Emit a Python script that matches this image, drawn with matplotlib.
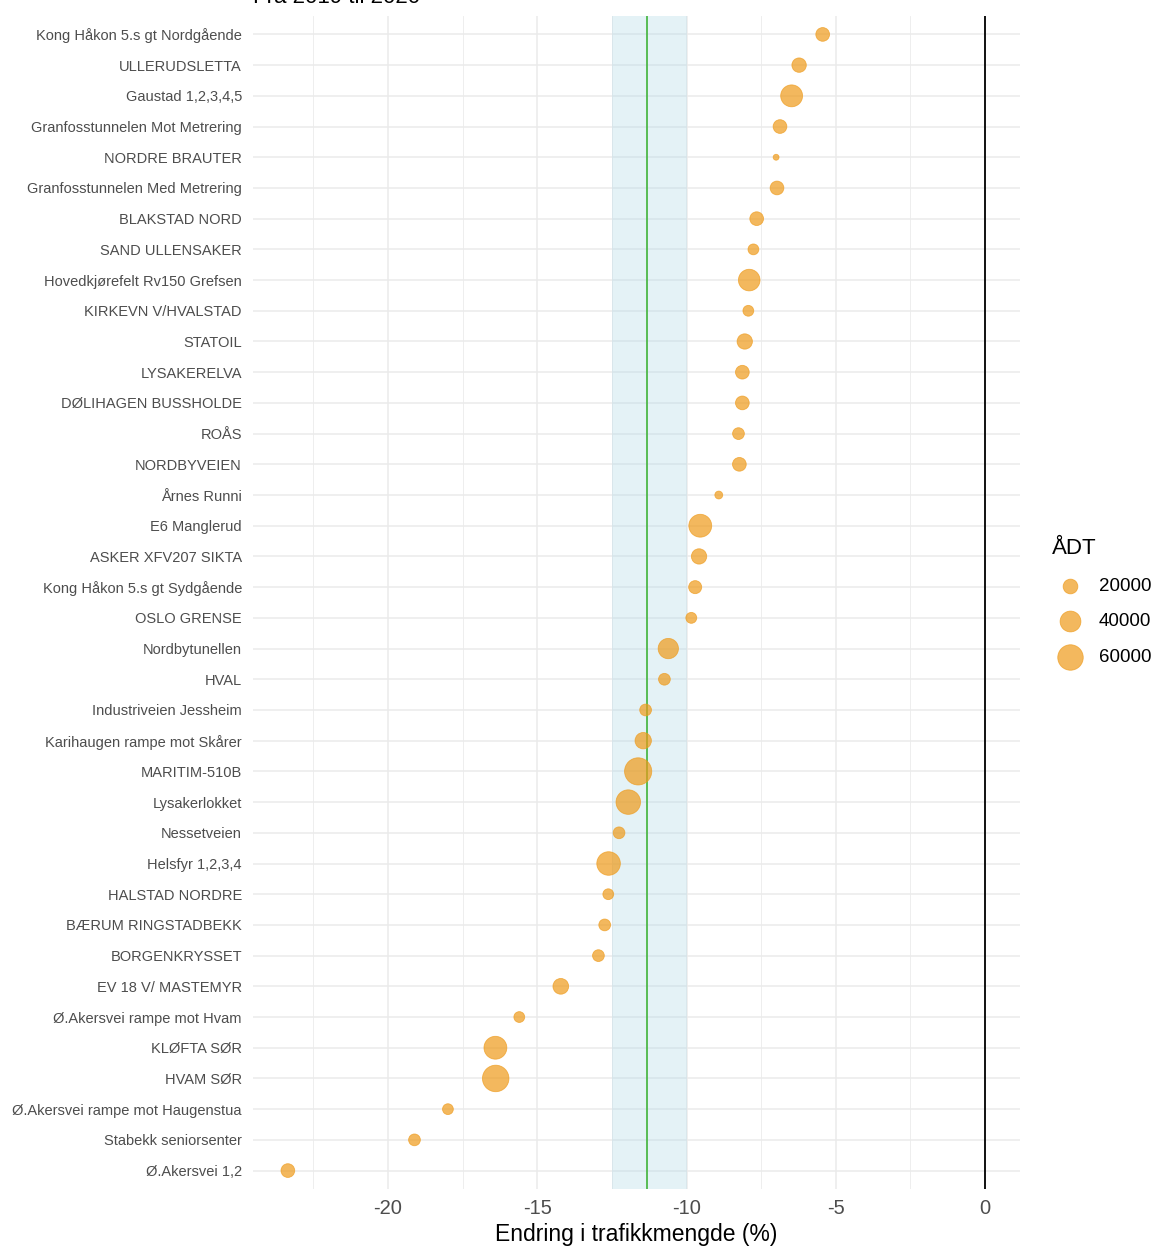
import matplotlib
matplotlib.use("Agg")
import matplotlib.pyplot as plt
import numpy as np

plt.rcParams["font.family"] = ["Liberation Sans", "DejaVu Sans"]

# --- data ---
STATIONS = [
    "Kong Håkon 5.s gt Nordgående", "ULLERUDSLETTA", "Gaustad 1,2,3,4,5",
    "Granfosstunnelen Mot Metrering", "NORDRE BRAUTER",
    "Granfosstunnelen Med Metrering", "BLAKSTAD NORD", "SAND ULLENSAKER",
    "Hovedkjørefelt Rv150 Grefsen", "KIRKEVN V/HVALSTAD", "STATOIL",
    "LYSAKERELVA", "DØLIHAGEN BUSSHOLDE", "ROÅS", "NORDBYVEIEN",
    "Årnes Runni", "E6 Manglerud", "ASKER XFV207 SIKTA",
    "Kong Håkon 5.s gt Sydgående", "OSLO GRENSE", "Nordbytunellen", "HVAL",
    "Industriveien Jessheim", "Karihaugen rampe mot Skårer", "MARITIM-510B",
    "Lysakerlokket", "Nessetveien", "Helsfyr 1,2,3,4", "HALSTAD NORDRE",
    "BÆRUM RINGSTADBEKK", "BORGENKRYSSET", "EV 18 V/ MASTEMYR",
    "Ø.Akersvei rampe mot Hvam", "KLØFTA SØR", "HVAM SØR",
    "Ø.Akersvei rampe mot Haugenstua", "Stabekk seniorsenter", "Ø.Akersvei 1,2",
]
CHANGE_PCT = [
    -5.44, -6.23, -6.48, -6.87, -7.00, -6.97, -7.65, -7.76, -7.90, -7.93,
    -8.05, -8.13, -8.13, -8.26, -8.23, -8.92, -9.54, -9.58, -9.71, -9.84,
    -10.61, -10.74, -11.37, -11.45, -11.62, -11.95, -12.26, -12.61, -12.62,
    -12.74, -12.95, -14.21, -15.60, -16.40, -16.39, -17.99, -19.11, -23.35,
]
ADT = [
    17400, 19200, 44300, 17400, 3200, 17400, 17400, 10800, 43100, 10800,
    21700, 17400, 17400, 12800, 17400, 5700, 48300, 21700, 15700, 11000,
    38100, 12800, 12800, 24800, 68300, 55600, 12800, 51300, 10800,
    12800, 12800, 22800, 10800, 48300, 64900, 10800, 12800, 17400,
]
LEGEND_ADT = [20000, 40000, 60000]

BAND = (-12.5, -10.0)
MEAN_LINE = -11.34

POINT_COLOR = "#EE9A1A"
TEXT_GREY = "#4D4D4D"
GRID = "#EBEBEB"


def area(v):
    # area proportional to ÅDT (pt^2)
    return 0.0056 * np.asarray(v, dtype=float)


W, H = 1159, 1251
fig = plt.figure(figsize=(W / 100, H / 100), dpi=100)
ax = fig.add_axes([253 / W, 1 - 1189 / H, (1020 - 253) / W, (1189 - 16) / H])

y = np.arange(len(STATIONS))
x = np.array(CHANGE_PCT)

lo, hi = x.min(), 0.0
pad = 0.05 * (hi - lo)
ax.set_xlim(lo - pad, hi + pad)
ax.set_ylim(len(STATIONS) - 0.4, -0.6)

# grid
for xv in [-22.5, -17.5, -12.5, -7.5, -2.5]:
    ax.axvline(xv, color=GRID, lw=0.6, zorder=0)
for xv in [-20, -15, -10, -5, 0]:
    ax.axvline(xv, color=GRID, lw=1.1, zorder=0)
for yv in y:
    ax.axhline(yv, color=GRID, lw=1.1, zorder=0)

ax.axvspan(BAND[0], BAND[1], color="#ADD8E6", alpha=0.32, lw=0, zorder=1)
ax.axvline(MEAN_LINE, color="#4DB848", lw=1.3, zorder=2)
ax.axvline(0, color="black", lw=1.3, zorder=2)

ax.scatter(x, y, s=area(ADT), color=POINT_COLOR, alpha=0.7,
           edgecolors=POINT_COLOR, linewidths=0.6, zorder=3)

ax.set_yticks(y)
ax.set_yticklabels(STATIONS, fontsize=10.5, color=TEXT_GREY)
ax.set_xticks([-20, -15, -10, -5, 0])
ax.set_xticklabels(["-20", "-15", "-10", "-5", "0"], fontsize=14.5,
                   color=TEXT_GREY)
ax.tick_params(axis="y", length=0, pad=8)
ax.tick_params(axis="x", length=0, pad=7)
ax.set_xlabel("Endring i trafikkmengde (%)", fontsize=16.5, labelpad=4)
for sp in ax.spines.values():
    sp.set_visible(False)

# size legend
handles = [
    ax.scatter([], [], s=area(v), color=POINT_COLOR, alpha=0.7,
               edgecolors=POINT_COLOR, linewidths=0.6, label=f"{v}")
    for v in LEGEND_ADT
]
leg = fig.legend(
    handles=handles, title="ÅDT", loc="upper left",
    bbox_to_anchor=(1039 / W, 1 - 525 / H), frameon=False,
    fontsize=13.5, title_fontsize=16, alignment="left",
    handlelength=1.9, handletextpad=0.6, labelspacing=0.98,
    borderpad=0.2, scatterpoints=1,
)

# title (cut off at the top edge, as in the reference)
fig.text(253 / W, 1 - 3 / H, "Fra 2019 til 2020", fontsize=16,
         va="baseline", ha="left")

fig.savefig("out.png", dpi=100)
